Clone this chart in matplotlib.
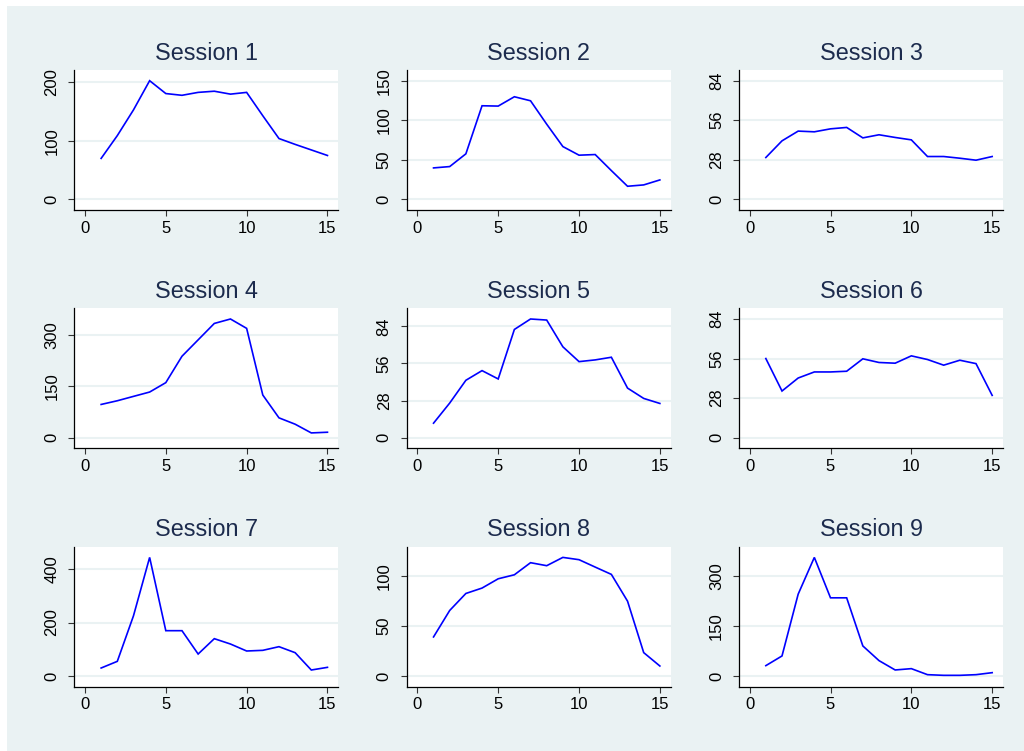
import matplotlib
matplotlib.use("Agg")
import matplotlib.pyplot as plt
from matplotlib.patches import Rectangle

sessions = ["Session 1", "Session 2", "Session 3", "Session 4", "Session 5",
            "Session 6", "Session 7", "Session 8", "Session 9"]
periods = list(range(1, 16))

s1 = [70, 109, 153, 203, 181, 178, 183, 185, 180, 183, 143, 104, 94, 84.5, 75]
s2 = [39.7, 41.4, 57.5, 118.3, 117.9, 129.7, 124.6, 95, 66.7, 55.8, 56.6, 36.3, 16.5, 18.2, 24.5]
s3 = [29.6, 41.4, 48.3, 47.8, 49.9, 50.9, 43.5, 45.7, 43.8, 42.1, 30.3, 30.3, 29.1, 27.7, 30.3]
s4 = [97, 107.8, 120.6, 133.3, 160.8, 238, 286, 334, 347, 319.6, 124.5, 57.8, 39.2, 13.7, 15.7]
s5 = [10.9, 26.1, 43.3, 50.6, 44.3, 81.7, 89.6, 88.8, 68.6, 57.4, 58.7, 60.7, 37.4, 29.6, 25.8]
s6 = [56, 33, 42.2, 46.5, 46.5, 47, 55.8, 53.2, 52.7, 57.9, 55.3, 51.3, 54.8, 52.4, 29.9]
s7 = [29.9, 54.8, 225, 443.6, 169.5, 169.5, 82.2, 139.6, 119.6, 93.5, 96, 109.7, 87.2, 22.4, 32.4]
s8 = [39.1, 65.6, 82.6, 88, 97.3, 101.3, 113.4, 110.4, 118.7, 116.4, 109, 101.7, 74.9, 23.4, 10]
s9 = [31.1, 60.2, 245.8, 356.2, 234.8, 234.8, 90.3, 46.2, 18.1, 22.1, 4, 2, 2, 4, 10]
series = [s1, s2, s3, s4, s5, s6, s7, s8, s9]

yticks = [[0, 100, 200], [0, 50, 100, 150], [0, 28, 56, 84],
          [0, 150, 300], [0, 28, 56, 84], [0, 28, 56, 84],
          [0, 200, 400], [0, 50, 100], [0, 150, 300]]
xticks = [0, 5, 10, 15]

BG = "#EAF2F3"
W, H = 1024, 751
fig = plt.figure(figsize=(W / 100, H / 100), dpi=100, facecolor="white")
fig.patches.append(Rectangle((7 / W, 0), 1 - 7 / W, 1 - 6 / H, transform=fig.transFigure,
                             facecolor=BG, edgecolor="none", zorder=-10))

plt.rcParams["font.family"] = ["Liberation Sans", "DejaVu Sans"]

lefts = [74.3, 406.7, 739.0]
tops = [70.0, 308.3, 546.7]
aw, ah = 264.0, 140.0

for i, (name, ys, yt) in enumerate(zip(sessions, series, yticks)):
    r, c = divmod(i, 3)
    ax = fig.add_axes([lefts[c] / W, (H - tops[r] - ah) / H, aw / W, ah / H])
    ax.set_facecolor("white")
    ax.plot(periods, ys, color="#0000FF", lw=1.2, solid_joinstyle="miter")
    lo = min(0, min(ys))
    hi = max(max(yt), max(ys))
    pad = 0.0902 * (hi - lo)
    ax.set_ylim(lo - pad, hi + pad)
    ax.set_xlim(-0.66, 15.67)
    ax.set_yticks(yt)
    ax.set_xticks(xticks)
    ax.set_yticklabels([str(v) for v in yt], rotation=90, va="center")
    ax.grid(axis="y", color=BG, lw=1.5)
    ax.set_axisbelow(True)
    for s in ["top", "right"]:
        ax.spines[s].set_visible(False)
    for s in ["left", "bottom"]:
        ax.spines[s].set_color("black")
        ax.spines[s].set_linewidth(0.9)
    ax.tick_params(axis="y", length=4.3, width=0.8, color="#333333", pad=6.5, labelsize=12)
    ax.tick_params(axis="x", length=4.3, width=0.8, color="#333333", pad=3.4, labelsize=12)
    ax.set_title(name, fontsize=16.8, color="#1c2b4d", pad=7.5)

fig.savefig("out.png", dpi=100, facecolor="white")
